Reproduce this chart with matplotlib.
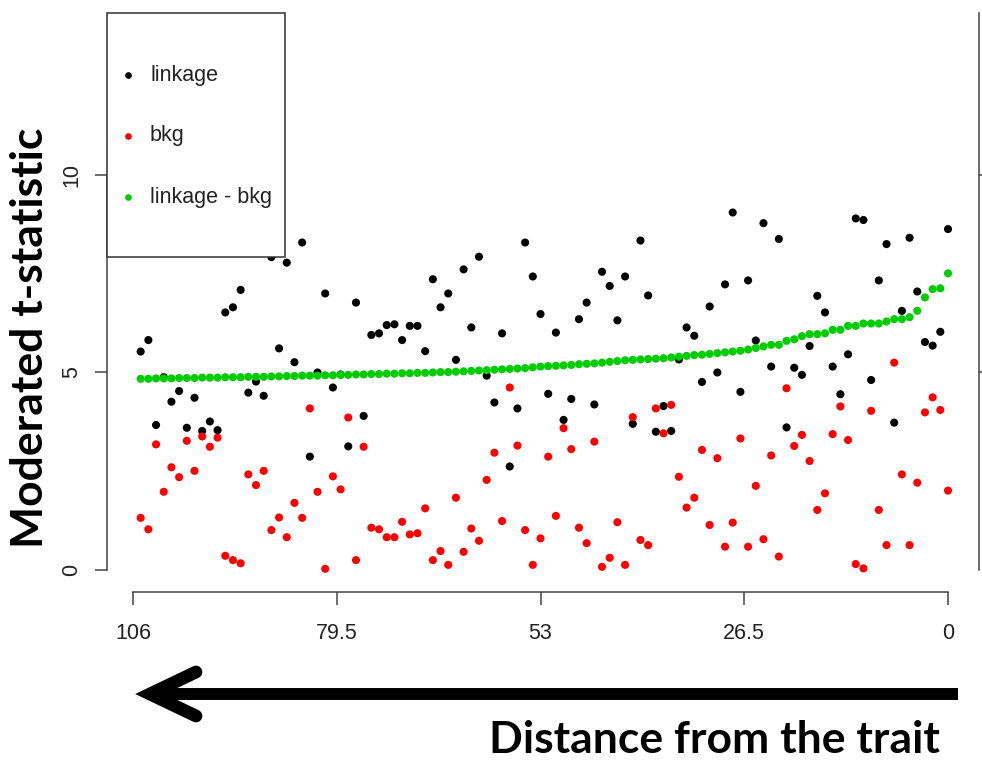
import matplotlib
matplotlib.use("Agg")
import matplotlib.pyplot as plt
from matplotlib.lines import Line2D
from matplotlib.patches import Rectangle
import numpy as np

W, H = 982, 763

# distance from the trait (marker index, largest first)
distance = np.arange(105, -1, -1)

linkage = [5.53, 5.82, 3.67, 4.88, 4.26, 4.53, 3.60, 4.36, 3.52, 3.76,
           3.54, 6.52, 6.65, 7.09, 4.49, 4.77, 4.41, 7.92, 5.61, 7.78,
           5.26, 8.29, 2.87, 5.00, 7.00, 4.62, 4.95, 3.13, 6.77, 3.90,
           5.95, 5.99, 6.20, 6.22, 5.82, 6.18, 6.18, 5.54, 7.36, 6.65,
           7.00, 5.32, 7.61, 6.14, 7.93, 4.92, 4.24, 5.99, 2.62, 4.09,
           8.29, 7.43, 6.48, 4.46, 6.01, 3.80, 4.33, 6.35, 6.77, 4.19,
           7.55, 7.19, 6.32, 7.43, 3.70, 8.34, 6.95, 3.50, 4.15, 3.52,
           5.33, 6.14, 5.93, 4.76, 6.67, 5.00, 7.23, 9.05, 4.51, 7.33,
           5.81, 8.78, 5.15, 8.38, 3.61, 5.12, 4.94, 5.67, 6.94, 6.52,
           5.15, 4.45, 5.46, 8.90, 8.86, 4.81, 7.33, 8.25, 3.73, 6.56,
           8.41, 7.05, 5.77, 5.68, 6.03, 8.63]

bkg = [1.32, 1.03, 3.18, 1.98, 2.60, 2.35, 3.27, 2.51, 3.38, 3.12,
       3.35, 0.36, 0.25, 0.17, 2.42, 2.15, 2.51, 1.01, 1.33, 0.83,
       1.70, 1.32, 4.09, 1.98, 0.03, 2.37, 2.04, 3.86, 0.25, 3.12,
       1.07, 1.03, 0.83, 0.83, 1.22, 0.90, 0.93, 1.56, 0.25, 0.48,
       0.13, 1.83, 0.46, 1.05, 0.74, 2.28, 2.97, 1.24, 4.62, 3.15,
       1.01, 0.13, 0.80, 2.87, 1.37, 3.59, 3.06, 1.07, 0.68, 3.25,
       0.08, 0.31, 1.21, 0.13, 3.87, 0.76, 0.63, 4.09, 3.46, 4.18,
       2.36, 1.58, 1.83, 3.04, 1.14, 2.83, 0.59, 1.20, 3.33, 0.59,
       2.13, 0.78, 2.90, 0.34, 4.60, 3.14, 3.42, 2.76, 1.52, 1.94,
       3.44, 4.14, 3.29, 0.15, 0.04, 4.03, 1.52, 0.63, 5.25, 2.42,
       0.63, 2.21, 3.99, 4.37, 4.05, 2.01]

diff = [4.84, 4.84, 4.85, 4.85, 4.85, 4.86, 4.86, 4.86, 4.87, 4.87,
        4.87, 4.88, 4.88, 4.88, 4.89, 4.89, 4.89, 4.90, 4.90, 4.91,
        4.91, 4.92, 4.92, 4.92, 4.93, 4.93, 4.94, 4.94, 4.95, 4.95,
        4.96, 4.96, 4.97, 4.97, 4.98, 4.98, 4.99, 4.99, 5.00, 5.01,
        5.01, 5.02, 5.03, 5.04, 5.05, 5.06, 5.07, 5.08, 5.09, 5.10,
        5.11, 5.13, 5.15, 5.16, 5.17, 5.18, 5.19, 5.21, 5.22, 5.23,
        5.25, 5.27, 5.29, 5.31, 5.32, 5.33, 5.34, 5.35, 5.36, 5.38,
        5.40, 5.42, 5.44, 5.45, 5.47, 5.49, 5.51, 5.53, 5.55, 5.58,
        5.62, 5.66, 5.70, 5.70, 5.80, 5.84, 5.92, 5.97, 5.97, 5.99,
        6.08, 6.08, 6.18, 6.18, 6.24, 6.24, 6.24, 6.29, 6.35, 6.35,
        6.40, 6.56, 6.90, 7.11, 7.13, 7.51]

xticks = [106, 79.5, 53, 26.5, 0]
xticklabels = ["106", "79.5", "53", "26.5", "0"]
yticks = [0, 5, 10]
labels = ["linkage", "bkg", "linkage - bkg"]
colors = ["black", "#ff0000", "#00cd00"]


def fx(px):
    return px / W


def fy(py):
    return 1 - py / H


fig = plt.figure(figsize=(W / 100, H / 100), dpi=100)
ax = fig.add_axes([fx(107), fy(592), fx(979) - fx(107), fy(13) - fy(592)])

for vals, c in zip([linkage, bkg, diff], colors):
    ax.scatter(distance, vals, s=34, color=c, edgecolors="none", zorder=3)

ax.set_xlim(109.38, -4.03)
ax.set_ylim(-0.557, 14.10)

axcol = "#444444"
ax.spines["top"].set_visible(False)
for side in ["left", "right", "bottom"]:
    ax.spines[side].set_color(axcol)
    ax.spines[side].set_linewidth(1.1)
ax.spines["left"].set_bounds(0, 10)
ax.spines["right"].set_bounds(0, 14.10)
ax.spines["bottom"].set_bounds(0, 106)

ax.set_xticks(xticks)
ax.set_xticklabels(xticklabels)
ax.set_yticks(yticks)
ax.set_yticklabels([str(v) for v in yticks], rotation=90, va="center")
ax.tick_params(axis="both", length=9, width=1.1, color=axcol, labelsize=15.5,
               labelcolor="#222222", direction="out")
ax.tick_params(axis="x", pad=13)
ax.tick_params(axis="y", pad=9)
ax.tick_params(axis="y", which="both", right=True, labelright=False)
ax.yaxis.get_major_ticks()[0].tick2line.set_visible(False)
for lab in ax.get_xticklabels() + ax.get_yticklabels():
    lab.set_family("Liberation Sans")

# legend box drawn like the R legend
fig.add_artist(Rectangle((fx(107), fy(257)), fx(285) - fx(107), fy(13) - fy(257),
                         transform=fig.transFigure, facecolor="white",
                         edgecolor="#333333", linewidth=1.1, zorder=5))
for i, (lab, c) in enumerate(zip(labels, colors)):
    yy = fy(75 + 61 * i)
    fig.add_artist(Line2D([fx(128)], [yy], transform=fig.transFigure, marker="o",
                          markersize=4.8, color=c, markeredgewidth=0, linestyle="none",
                          zorder=6))
    fig.text(fx(150), yy, lab, fontsize=15.5, family="Liberation Sans",
             color="#222222", va="center", ha="left", zorder=6)

# axis titles
fig.text(fx(30), fy(338), "Moderated t-statistic", rotation=90, fontsize=32,
         fontweight="bold", family="Lato", ha="center", va="center")
fig.text(fx(940), fy(753), "Distance from the trait", fontsize=32,
         fontweight="bold", family="Lato", ha="right", va="baseline")

# arrow pointing away from the trait
fig.add_artist(Line2D([fx(958), fx(152)], [fy(694), fy(694)], transform=fig.transFigure,
                      color="black", linewidth=8.6, solid_capstyle="butt"))
fig.add_artist(Line2D([fx(196), fx(150), fx(196)], [fy(672), fy(694), fy(716)],
                      transform=fig.transFigure, color="black", linewidth=9.2,
                      solid_capstyle="round", solid_joinstyle="miter"))

fig.savefig("out.png", dpi=100)
